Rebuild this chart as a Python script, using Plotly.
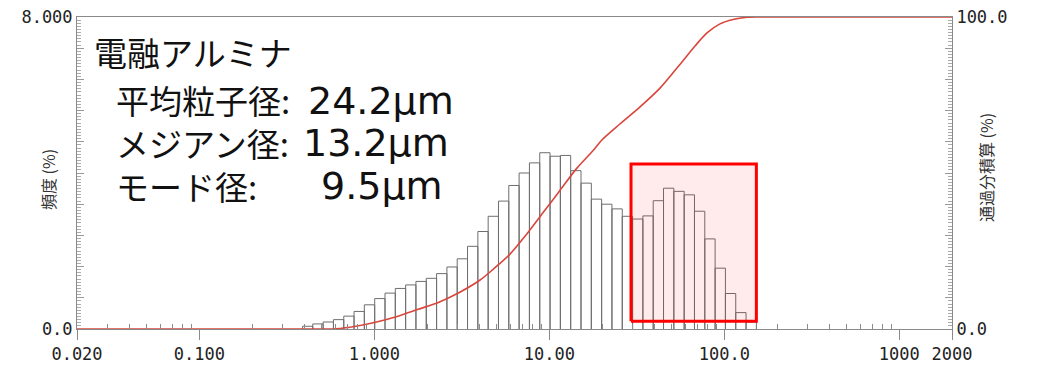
import math
import plotly.graph_objects as go

# ---------------- data ----------------
bin_edges_um = [0.389, 0.445, 0.510, 0.584, 0.669, 0.766, 0.877, 1.005, 1.151, 1.318,
                1.510, 1.729, 1.981, 2.269, 2.599, 2.976, 3.409, 3.905, 4.472, 5.122,
                5.867, 6.720, 7.697, 8.816, 10.097, 11.565, 13.246, 15.172, 17.377, 19.904,
                22.797, 26.111, 29.907, 34.255, 39.234, 44.938, 51.471, 58.953, 67.523, 77.339,
                88.583, 101.46, 116.21, 133.10, 152.45]
freq_pct = [0.07, 0.13, 0.18, 0.24, 0.33, 0.45, 0.62, 0.78, 0.92, 1.04,
            1.13, 1.22, 1.30, 1.42, 1.59, 1.80, 2.12, 2.50, 2.89, 3.28,
            3.68, 4.00, 4.26, 4.52, 4.43, 4.45, 4.06, 3.74, 3.33, 3.20,
            3.08, 2.89, 2.82, 2.90, 3.29, 3.61, 3.53, 3.44, 3.02, 2.31,
            1.56, 0.91, 0.42, 0.18]

cum_size_um = [0.02, 0.38, 0.60, 0.785, 1.03, 1.35, 1.78, 2.34, 3.06, 4.02, 4.79, 5.96, 7.42,
               9.24, 11.5, 14.3, 17.8, 19.9, 25.3, 33.0, 42.9, 57.3, 68.0, 79.6, 94.5,
               112.1, 134.8, 160, 2000]
cum_pct = [0, 0, 0.1, 0.9, 2.25, 4.0, 6.3, 8.6, 11.7, 15.7, 19.2, 24.0, 30.4,
           37.4, 44.4, 51.4, 57.2, 60.5, 65.7, 71.2, 77.2, 85.6, 90.7, 94.9, 97.8,
           99.2, 99.9, 100, 100]

x_tick_vals = [0.02, 0.1, 1, 10, 100, 1000, 2000]
x_tick_text = ["0.020", "0.100", "1.000", "10.00", "100.0", "1000", "2000"]

box_x_um = [29.3, 152.45]
box_y_pct = [0.2, 4.23]

title_text = "電融アルミナ"
stat_labels = ["平均粒子径:", "メジアン径:", "モード径:"]
stat_values = ["24.2μm", "13.2μm", "9.5μm"]
left_title = "頻度 (%)"
right_title = "通過分積算 (%)"

# ---------------- layout geometry ----------------
W, H = 1039, 365
L, R, T, B = 77, 952, 17, 329
pw, ph = R - L, B - T


def px(x):
    return (x - L) / pw


def py(y):
    return (B - y) / ph


minor_vals = []
for e in range(-2, 3):
    for m in range(2, 10):
        v = round(m * 10 ** e, 6)
        if 0.02 < v < 2000 and v not in x_tick_vals:
            minor_vals.append(v)

# bar outlines
bx, by = [], []
for i, f in enumerate(freq_pct):
    x0, x1 = bin_edges_um[i], bin_edges_um[i + 1]
    bx += [x0, x0, x1, x1, None]
    by += [0, f, f, 0, None]

fig = go.Figure()
fig.add_trace(go.Scatter(x=bx, y=by, mode="lines", line=dict(color="#6e6e6e", width=1),
                         hoverinfo="skip", showlegend=False))
fig.add_trace(go.Scatter(x=[box_x_um[0], box_x_um[1], box_x_um[1], box_x_um[0], box_x_um[0]],
                         y=[box_y_pct[0], box_y_pct[0], box_y_pct[1], box_y_pct[1], box_y_pct[0]],
                         mode="lines", fill="toself", fillcolor="rgba(255,0,0,0.08)",
                         line=dict(color="#ff0000", width=3), hoverinfo="skip", showlegend=False))
fig.add_trace(go.Scatter(x=cum_size_um, y=cum_pct, yaxis="y2", mode="lines",
                         line=dict(color="#d9463c", width=1.6, shape="spline", smoothing=0.8),
                         showlegend=False))

tickfont = dict(family="DejaVu Sans Mono", size=17, color="#222")
fig.update_layout(
    template="none",
    width=W, height=H,
    margin=dict(l=L, r=W - R, t=T, b=H - B, pad=0),
    paper_bgcolor="white", plot_bgcolor="white",
    xaxis=dict(type="log", range=[math.log10(0.02), math.log10(2000)], automargin=False,
               showline=True, linecolor="#8a8a8a", linewidth=1, mirror=True,
               showgrid=False, zeroline=False,
               tickmode="array", tickvals=x_tick_vals, ticktext=x_tick_text,
               ticks="outside", ticklen=10, tickcolor="#8a8a8a", tickfont=tickfont,
               minor=dict(tickmode="array", tickvals=minor_vals, ticks="inside",
                          ticklen=5, tickcolor="#8a8a8a", showgrid=False)),
    yaxis=dict(range=[0, 8], automargin=False, showline=True, linecolor="#8a8a8a", linewidth=1,
               showgrid=False, zeroline=False,
               tickmode="array", tickvals=[i * 0.8 for i in range(11)],
               ticktext=["0.0"] + [""] * 9 + ["8.000"],
               ticks="inside", ticklen=7, tickcolor="#999", tickfont=tickfont,
               minor=dict(tickmode="linear", dtick=0.08, tick0=0, ticks="inside", ticklen=4,
                          tickcolor="#aaa", showgrid=False)),
    yaxis2=dict(range=[0, 100], automargin=False, overlaying="y", side="right", showline=True,
                linecolor="#8a8a8a", linewidth=1, showgrid=False, zeroline=False,
                tickmode="array", tickvals=list(range(0, 101, 10)),
                ticktext=["0.0"] + [""] * 9 + ["100.0"],
                ticks="inside", ticklen=7, tickcolor="#999", tickfont=tickfont,
                minor=dict(tickmode="linear", dtick=1, tick0=0, ticks="inside", ticklen=4,
                           tickcolor="#aaa", showgrid=False)),
)

jp = "Noto Sans CJK JP"
lat = "DejaVu Sans"
ann = []
ann.append(dict(text=title_text, x=px(92), y=py(52), xanchor="left", yanchor="middle",
                font=dict(family=jp, size=33, color="#111")))
ann.append(dict(text="<br>".join(stat_labels), x=px(114), y=py(143), xanchor="left",
                yanchor="middle", align="left", font=dict(family=jp, size=33, color="#111")))
for txt, xx, yy in zip(stat_values, [306, 301, 319], [100, 142, 185]):
    ann.append(dict(text=txt, x=px(xx), y=py(yy + 1), xanchor="left", yanchor="middle",
                    font=dict(family=lat, size=38, color="#111")))
ann.append(dict(text=left_title, x=px(48), y=py(180), textangle=-90, xanchor="center",
                yanchor="middle", font=dict(family=jp, size=16, color="#333")))
ann.append(dict(text=right_title, x=px(986), y=py(168), textangle=-90, xanchor="center",
                yanchor="middle", font=dict(family=jp, size=16, color="#333")))
for a in ann:
    a.update(xref="paper", yref="paper", showarrow=False)
fig.update_layout(annotations=ann)

fig.write_html("out.html", config={"displayModeBar": False},
               post_script="document.body.style.margin='0';")
